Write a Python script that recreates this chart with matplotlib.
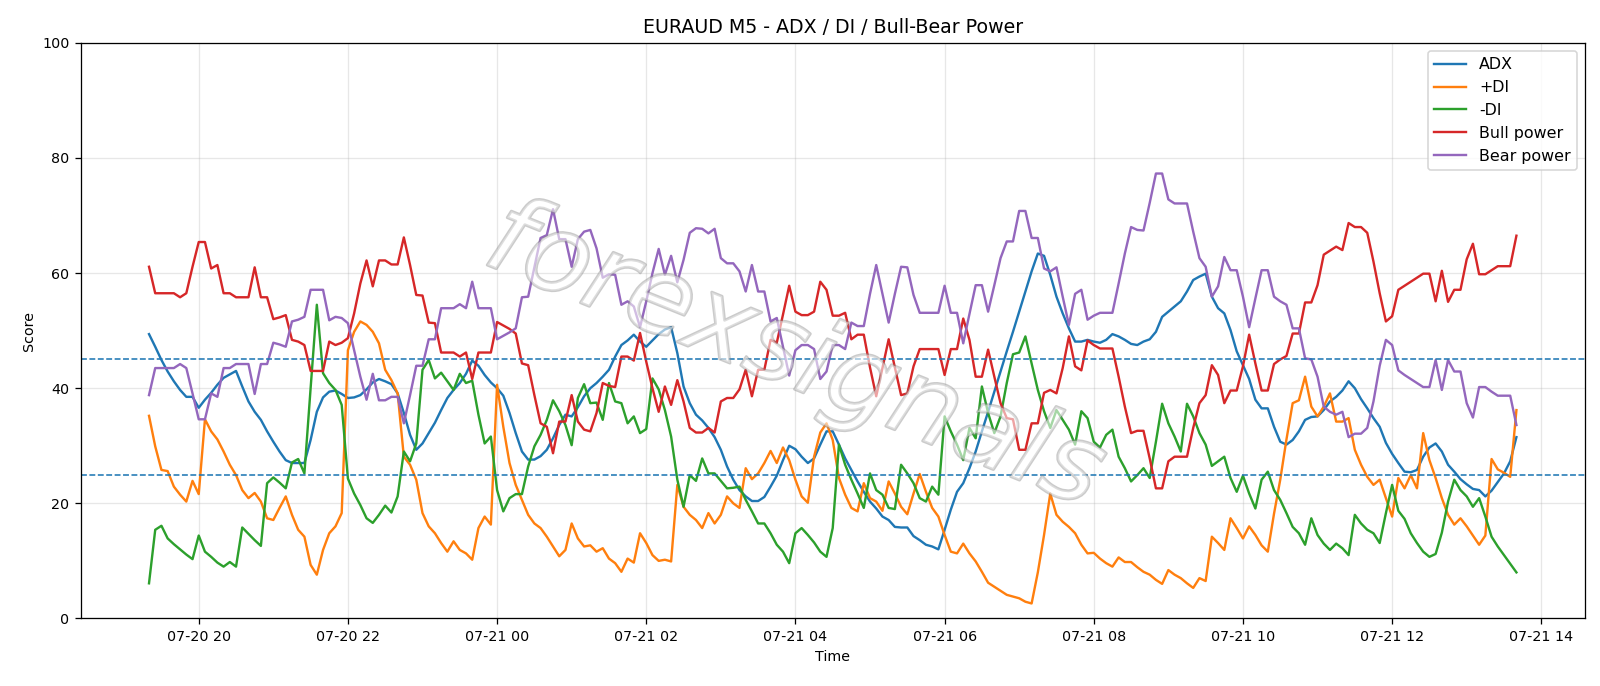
import matplotlib
matplotlib.use("Agg")
import matplotlib.pyplot as plt
import matplotlib.patheffects as pe
import pandas as pd

start_time = "2025-07-20 19:20"
n_points = 221

adx = [49.4, 47.2, 44.9, 42.9, 41.2, 39.7, 38.5, 38.5, 36.6, 38.0, 39.2, 40.6, 41.8, 42.4, 43.0, 40.3, 37.7, 35.9, 34.5, 32.5, 30.7, 29.0, 27.5, 27.0, 27.0,
       27.0, 31.0, 35.9, 38.4, 39.4, 39.6, 39.0, 38.3, 38.4, 38.8, 39.8, 41.0, 41.6, 41.2, 40.7, 39.1, 35.7, 31.9, 29.3, 30.4, 32.2, 34.0, 36.2, 38.3, 39.7,
       40.9, 42.5, 44.8, 43.9, 42.3, 41.0, 40.0, 38.7, 35.7, 32.2, 29.0, 27.6, 27.6, 28.2, 29.3, 31.3, 33.6, 35.4, 35.1, 36.7, 38.6, 40.0, 40.9, 42.0,
       43.2, 45.5, 47.5, 48.3, 49.3, 48.1, 47.2, 48.3, 49.4, 50.2, 50.6, 46.1, 40.3, 37.4, 35.4, 34.4, 33.1, 31.5, 29.3, 26.4, 24.1, 22.3, 21.2, 20.4, 20.4,
       21.1, 22.9, 24.8, 27.5, 30.0, 29.4, 28.1, 27.0, 27.8, 30.2, 32.5, 32.5, 30.2, 27.8, 25.8, 23.8, 22.0, 20.3, 19.1, 17.7, 17.1, 15.9, 15.8, 15.8, 14.3,
       13.6, 12.8, 12.5, 12.0, 15.4, 18.9, 22.0, 23.5, 26.1, 29.0, 32.5, 35.9, 39.4, 42.9, 46.4, 49.8, 53.3, 56.8, 60.3, 63.4, 63.0, 59.7, 55.9, 53.0, 50.4,
       48.1, 48.1, 48.4, 48.1, 47.9, 48.4, 49.4, 49.0, 48.4, 47.7, 47.5, 48.1, 48.5, 49.8, 52.4, 53.3, 54.2, 55.1, 56.8, 58.8, 59.4, 59.9, 55.9, 53.9,
       53.0, 50.1, 46.4, 44.0, 41.6, 38.0, 36.5, 36.5, 33.3, 30.7, 30.2, 31.0, 32.5, 34.5, 35.0, 35.1, 36.2, 37.7, 38.5, 39.6, 41.2, 40.0, 38.1, 36.5, 34.8,
       33.3, 30.5, 28.6, 27.0, 25.5, 25.4, 25.8, 28.1, 29.7, 30.4, 29.0, 26.7, 25.5, 24.2, 23.3, 22.5, 22.3, 21.2, 22.2, 23.7, 25.2, 27.3, 31.5]

plus_di = [35.2, 29.9, 25.8, 25.6, 22.9, 21.5, 20.3, 23.9, 21.6, 34.6, 32.5, 31.1, 29.0, 26.7, 24.9, 22.3, 20.9, 21.8, 20.3, 17.4, 17.1, 19.2, 21.2, 18.0, 15.4,
           14.2, 9.3, 7.6, 11.9, 14.8, 16.0, 18.3, 46.6, 49.8, 51.6, 51.0, 49.8, 47.8, 43.2, 41.4, 39.1, 28.1, 26.7, 24.1, 18.3, 16.0, 14.8, 13.1, 11.6, 13.4,
           11.9, 11.3, 10.2, 15.7, 17.7, 16.3, 40.6, 33.3, 27.0, 23.2, 20.6, 18.0, 16.5, 15.7, 14.2, 12.5, 10.8, 11.9, 16.5, 13.9, 12.5, 12.7, 11.6, 12.2,
           10.4, 9.6, 8.1, 10.4, 9.7, 14.8, 13.1, 11.0, 10.0, 10.2, 9.9, 23.2, 19.4, 18.0, 17.1, 15.7, 18.3, 16.5, 18.0, 21.2, 20.0, 19.2, 26.1, 24.2, 25.2,
           27.0, 29.1, 27.0, 29.7, 27.5, 24.1, 21.2, 20.1, 28.1, 32.3, 33.9, 31.0, 24.4, 21.5, 19.2, 18.6, 23.5, 20.9, 20.3, 18.7, 23.8, 21.7, 19.4, 18.1, 21.7,
           25.1, 22.0, 19.2, 17.7, 14.5, 11.6, 11.3, 13.0, 11.3, 9.9, 8.1, 6.2, 5.5, 4.8, 4.1, 3.8, 3.5, 2.9, 2.6, 8.0, 14.5, 21.7, 18.0, 16.8, 15.9,
           14.8, 12.8, 11.3, 11.4, 10.4, 9.6, 9.0, 10.6, 9.8, 9.8, 8.9, 8.1, 7.6, 6.7, 6.0, 8.4, 7.6, 7.0, 6.1, 5.3, 7.0, 6.5, 14.2, 13.1,
           11.9, 17.4, 15.7, 13.9, 16.0, 14.5, 12.7, 11.6, 18.2, 24.1, 31.1, 37.4, 37.9, 42.0, 36.8, 35.1, 36.8, 39.1, 34.2, 34.2, 34.8, 29.3, 26.7, 24.6, 23.2,
           24.1, 20.9, 17.7, 24.4, 22.6, 24.9, 22.6, 32.2, 27.5, 24.4, 20.9, 18.0, 16.3, 17.4, 16.0, 14.4, 12.8, 14.4, 27.7, 25.9, 25.3, 24.6, 36.2]

minus_di = [6.1, 15.4, 16.1, 13.9, 12.9, 12.0, 11.1, 10.3, 14.4, 11.6, 10.7, 9.7, 9.0, 9.8, 9.0, 15.8, 14.7, 13.6, 12.6, 23.5, 24.5, 23.6, 22.6, 27.1, 27.7,
            25.2, 40.0, 54.5, 42.6, 40.9, 39.7, 37.1, 24.3, 21.7, 19.7, 17.4, 16.6, 18.0, 19.6, 18.4, 21.2, 29.0, 27.3, 30.4, 43.2, 44.9, 41.7, 42.7, 41.2, 39.7,
            42.5, 40.9, 41.3, 35.4, 30.4, 31.6, 22.3, 18.6, 20.9, 21.6, 21.6, 26.4, 29.9, 31.9, 34.5, 37.9, 36.0, 33.6, 30.1, 38.3, 40.7, 37.4, 37.5, 34.5,
            40.9, 37.7, 37.4, 33.9, 35.1, 32.2, 32.9, 41.7, 39.8, 36.2, 31.6, 24.1, 19.4, 24.9, 23.9, 27.8, 25.2, 25.2, 23.9, 22.6, 22.7, 22.9, 20.6, 18.6, 16.5,
            16.5, 14.8, 12.8, 11.6, 9.6, 14.8, 15.7, 14.5, 13.2, 11.6, 10.7, 15.7, 30.2, 26.7, 24.1, 21.7, 19.2, 25.2, 22.3, 21.5, 19.2, 19.0, 26.7, 25.2, 23.5,
            20.9, 20.3, 22.9, 21.5, 35.1, 32.5, 30.2, 27.5, 33.1, 31.3, 40.3, 35.7, 32.2, 35.1, 40.9, 45.9, 46.2, 49.0, 44.3, 39.7, 36.0, 33.1, 36.2, 34.5, 32.8,
            30.2, 36.0, 34.8, 30.7, 29.7, 31.9, 32.8, 28.1, 26.1, 23.8, 24.9, 26.1, 24.4, 30.7, 37.3, 33.9, 31.6, 29.0, 37.3, 35.1, 32.2, 30.2, 26.5, 27.3,
            28.1, 24.4, 22.0, 24.8, 21.7, 19.1, 24.1, 25.5, 22.3, 20.6, 18.3, 15.9, 14.8, 12.8, 17.4, 14.5, 13.0, 11.9, 13.0, 12.2, 11.0, 18.0, 16.5, 15.4, 14.8,
            13.1, 18.3, 23.2, 18.7, 17.3, 14.8, 13.1, 11.6, 10.7, 11.2, 14.9, 20.3, 24.1, 22.3, 21.2, 19.4, 20.9, 17.7, 14.2, 12.5, 11.0, 9.5, 8.0]

bull_power = [61.1, 56.5, 56.5, 56.5, 56.5, 55.8, 56.5, 61.1, 65.4, 65.4, 60.8, 61.4, 56.5, 56.5, 55.8, 55.8, 55.8, 61.0, 55.8, 55.8, 52.0, 52.3, 52.7, 48.4, 48.1,
              47.5, 43.0, 43.0, 43.0, 48.1, 47.5, 47.9, 48.7, 53.0, 58.2, 62.2, 57.7, 62.2, 62.2, 61.5, 61.5, 66.2, 61.4, 56.2, 56.1, 51.4, 51.3, 46.2, 46.2, 46.2,
              45.5, 46.2, 41.6, 46.2, 46.2, 46.2, 51.5, 50.9, 50.3, 49.5, 44.3, 44.0, 38.8, 33.9, 33.3, 28.7, 34.2, 34.2, 38.8, 34.2, 32.8, 32.5, 35.7, 40.9,
              40.4, 40.2, 45.5, 45.5, 44.8, 49.6, 44.6, 40.0, 35.9, 40.3, 37.1, 41.4, 37.7, 33.1, 32.3, 32.3, 33.1, 32.3, 37.7, 38.3, 38.3, 39.8, 43.2, 38.6, 43.2,
              43.2, 48.4, 47.9, 52.8, 57.8, 53.3, 52.7, 52.7, 53.3, 58.5, 57.1, 52.6, 52.6, 53.1, 48.5, 49.3, 49.3, 43.6, 38.6, 43.5, 48.5, 43.6, 38.8, 39.1, 43.8,
              46.8, 46.8, 46.8, 46.8, 42.3, 46.8, 46.8, 52.1, 48.4, 42.0, 42.0, 46.7, 42.0, 37.4, 34.8, 34.6, 29.3, 29.3, 33.9, 33.9, 39.2, 39.7, 39.1, 43.5, 49.0,
              43.8, 43.1, 48.3, 47.5, 46.9, 46.9, 46.9, 42.0, 36.8, 32.2, 32.6, 32.6, 27.8, 22.6, 22.6, 27.3, 28.1, 28.1, 28.1, 33.1, 37.4, 38.8, 44.0, 42.3,
              37.4, 39.6, 39.6, 43.8, 49.3, 44.3, 39.6, 39.6, 44.2, 45.0, 45.6, 49.5, 49.5, 54.9, 54.9, 57.9, 63.2, 63.9, 64.6, 64.0, 68.7, 68.0, 68.0, 67.0, 62.0,
              56.5, 51.6, 52.5, 57.1, 57.8, 58.5, 59.2, 59.9, 59.9, 55.1, 60.4, 55.0, 57.1, 57.1, 62.4, 65.1, 59.8, 59.8, 60.5, 61.2, 61.2, 61.2, 66.5]

bear_power = [38.8, 43.5, 43.5, 43.5, 43.5, 44.2, 43.5, 39.1, 34.6, 34.6, 39.1, 38.5, 43.5, 43.5, 44.2, 44.2, 44.2, 39.0, 44.2, 44.2, 47.9, 47.6, 47.2, 51.6, 51.9,
              52.4, 57.1, 57.1, 57.1, 51.8, 52.4, 52.2, 51.3, 46.6, 42.0, 38.0, 42.5, 37.9, 37.9, 38.5, 38.5, 33.9, 38.8, 43.9, 43.9, 48.5, 48.5, 53.9, 53.9, 53.9,
              54.6, 53.9, 58.5, 53.9, 53.9, 53.9, 48.5, 49.1, 49.7, 50.4, 55.8, 55.9, 61.0, 66.1, 66.6, 71.1, 65.9, 65.9, 61.1, 65.9, 67.2, 67.5, 64.3, 59.2,
              59.8, 59.7, 54.5, 55.1, 54.2, 50.6, 55.1, 60.0, 64.2, 59.7, 63.0, 58.4, 62.3, 67.0, 67.8, 67.7, 66.9, 67.7, 62.6, 61.7, 61.7, 60.3, 56.8, 61.4, 56.8,
              56.8, 51.6, 52.2, 47.2, 42.2, 46.6, 47.5, 47.5, 46.8, 41.6, 42.9, 47.5, 47.5, 46.8, 51.4, 50.8, 50.8, 56.4, 61.4, 56.4, 51.4, 56.4, 61.1, 61.0, 56.2,
              53.1, 53.1, 53.1, 53.1, 57.8, 53.1, 53.1, 47.8, 52.9, 57.9, 57.9, 53.3, 57.9, 62.6, 65.5, 65.5, 70.8, 70.8, 66.1, 66.1, 60.8, 60.3, 61.0, 55.9, 51.0,
              56.4, 57.1, 51.9, 52.6, 53.1, 53.1, 53.1, 58.2, 63.4, 68.0, 67.5, 67.4, 72.2, 77.3, 77.3, 72.8, 72.1, 72.1, 72.1, 67.2, 62.6, 61.1, 55.9, 57.7,
              62.8, 60.5, 60.5, 55.9, 50.6, 55.6, 60.5, 60.5, 55.9, 55.1, 54.5, 50.4, 50.4, 45.2, 45.0, 42.0, 36.8, 35.9, 35.4, 35.9, 31.5, 32.1, 32.1, 33.1, 37.7,
              43.9, 48.4, 47.5, 43.1, 42.3, 41.6, 40.9, 40.2, 40.2, 44.9, 39.7, 44.9, 42.9, 42.9, 37.4, 34.9, 40.2, 40.2, 39.4, 38.7, 38.7, 38.7, 33.6]

levels = [45, 25]
title = "EURAUD M5 - ADX / DI / Bull-Bear Power"
watermark = "forexsignals"

times = pd.date_range(start_time, periods=n_points, freq="5min")

plt.rcParams["font.size"] = 9
DPI = 1600 / 14.0
fig = plt.figure(figsize=(14, 686 / DPI), dpi=DPI)
ax = fig.add_axes([0.0504, 0.0985, 0.9401, 0.839])

ax.plot(times, adx, label="ADX", color="C0", lw=1.5)
ax.plot(times, plus_di, label="+DI", color="C1", lw=1.5)
ax.plot(times, minus_di, label="-DI", color="C2", lw=1.5)
ax.plot(times, bull_power, label="Bull power", color="C3", lw=1.5)
ax.plot(times, bear_power, label="Bear power", color="C4", lw=1.5)
for lv in levels:
    ax.axhline(lv, color="C0", ls="--", lw=1.0)

ax.set_ylim(0, 100)
ax.grid(True, alpha=0.3)
ax.set_title(title, fontsize=12)
ax.set_xlabel("Time")
ax.set_ylabel("Score")
ax.legend(loc="upper right", fontsize=10)

ax.text(0.475, 0.455, watermark, transform=ax.transAxes, fontsize=68, style="italic",
        rotation=-22, ha="center", va="center", color=(1, 1, 1, 0.35), zorder=10,
        path_effects=[pe.withStroke(linewidth=1.8, foreground=(0.55, 0.55, 0.55, 0.45))])

fig.savefig("out.png", dpi=DPI)
